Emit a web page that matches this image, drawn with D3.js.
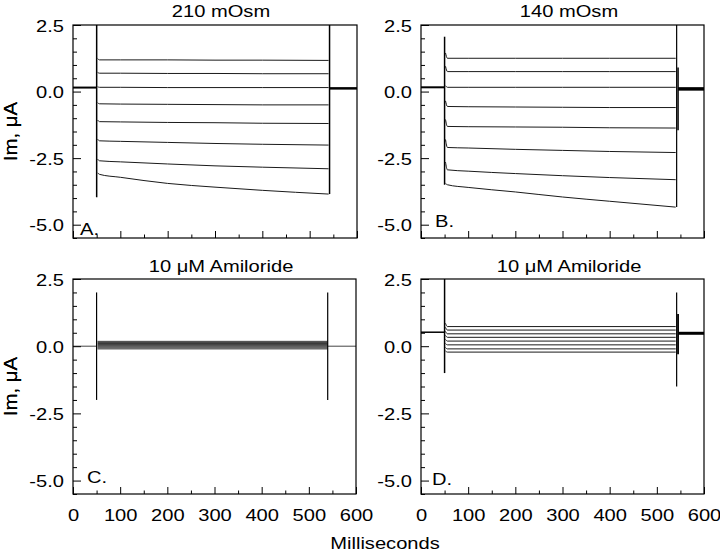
<!DOCTYPE html>
<html><head><meta charset="utf-8">
<script src="https://cdn.jsdelivr.net/npm/d3@7"></script>
<style>
body{margin:0;background:#fff}
svg{display:block}
text{font-family:"Liberation Sans",Arial,Helvetica,sans-serif;fill:#000}
</style>
</head><body>
<svg id="chart" width="720" height="552"></svg>
<script>
// ---------------- data ----------------
const panelTitles  = ["210 mOsm", "140 mOsm", "10 \u03BCM Amiloride", "10 \u03BCM Amiloride"];
const panelLetters = ["A.", "B.", "C.", "D."];
const xTickValues  = [0, 100, 200, 300, 400, 500, 600];
const xTickLabels  = ["0", "100", "200", "300", "400", "500", "600"];
const yTickValues  = [-5.0, -2.5, 0.0, 2.5];
const yTickLabels  = ["-5.0", "-2.5", "0.0", "2.5"];
const xLabel = "Milliseconds";
const yLabel = "Im, \u03BCA";

// Panel A: 210 mOsm  (time in ms, current in µA)
const stepTimesA = [52, 56, 100, 200, 300, 400, 540];
const tracesA = [
  [ 1.24,  1.19,  1.19,  1.19,  1.18,  1.18,  1.17],
  [ 0.72,  0.69,  0.69,  0.68,  0.68,  0.67,  0.67],
  [ 0.18,  0.16,  0.16,  0.15,  0.15,  0.15,  0.15],
  [-0.42, -0.46, -0.47, -0.48, -0.49, -0.50, -0.50],
  [-1.07, -1.13, -1.14, -1.16, -1.17, -1.19, -1.20],
  [-1.79, -1.85, -1.87, -1.91, -1.95, -1.98, -2.01],
  [-2.54, -2.60, -2.64, -2.72, -2.79, -2.84, -2.90],
  [-3.05, -3.11, -3.22, -3.45, -3.59, -3.71, -3.85]
];
const spikesA = [[50, 2.6, -3.97], [542, 2.6, -3.85]];
const holdA   = [[0, 50, 0.15], [542, 600, 0.12]];

// Panel B: 140 mOsm
const stepTimesB = [52, 56, 100, 200, 300, 400, 540];
const tracesB = [
  [ 1.45,  1.25,  1.25,  1.25,  1.25,  1.25,  1.25],
  [ 0.95,  0.75,  0.75,  0.75,  0.75,  0.75,  0.75],
  [ 0.22,  0.16,  0.16,  0.16,  0.16,  0.16,  0.16],
  [-0.35, -0.56, -0.57, -0.58, -0.59, -0.60, -0.60],
  [-1.05, -1.31, -1.32, -1.33, -1.34, -1.36, -1.37],
  [-1.80, -2.10, -2.12, -2.17, -2.21, -2.25, -2.29],
  [-2.65, -2.94, -2.99, -3.08, -3.16, -3.23, -3.31],
  [-3.45, -3.50, -3.60, -3.77, -3.96, -4.12, -4.34]
];
const spikesB = [[50, 2.06, -3.5], [542, 2.6, -4.34], [545, 0.9, -1.45]];
const holdB   = [[0, 50, 0.16], [545, 600, 0.10]];

// Panel C: 210 mOsm + 10 µM amiloride
const stepTimesC = [52, 540];
const tracesC = [
  [ 0.18,  0.18], [ 0.14,  0.14], [ 0.10,  0.10], [ 0.06,  0.06],
  [ 0.02,  0.02], [-0.02, -0.02], [-0.06, -0.06], [-0.10, -0.10]
];
const spikesC = [[50, 2.0, -2.0], [540, 2.0, -2.0]];
const holdC   = [[0, 50, 0.0], [540, 600, 0.0]];

// Panel D: 140 mOsm + 10 µM amiloride
const stepTimesD = [52, 56, 540];
const tracesD = [
  [ 0.85,  0.73,  0.73], [ 0.70,  0.60,  0.60], [ 0.55,  0.46,  0.46], [ 0.40,  0.33,  0.33],
  [ 0.25,  0.19,  0.19], [ 0.10,  0.05,  0.05], [-0.05, -0.10, -0.10], [-0.18, -0.22, -0.22]
];
const spikesD = [[50, 2.6, -1.0], [542, 2.0, -1.5], [545, 1.2, -0.3]];
const holdD   = [[0, 50, 0.52], [545, 600, 0.48]];

// ---------------- layout ----------------
const panels = [
  {times: stepTimesA, traces: tracesA, spikes: spikesA, hold: holdA,
   x0: 73, x1: 357, y0: 25, y1: 238, titleX: 221, titleY: 17, letX: 80, letY: 235, xLabels: false,
   holdW: [2, 2.5], traceColor: "#1a1a1a", spikeW: [1.5, 1.5]},
  {times: stepTimesB, traces: tracesB, spikes: spikesB, hold: holdB,
   x0: 421, x1: 704, y0: 25, y1: 238, titleX: 569, titleY: 17, letX: 435, letY: 227, xLabels: false,
   holdW: [2, 3.5], traceColor: "#1a1a1a", spikeW: [1.5, 1.2, 1.5]},
  {times: stepTimesC, traces: tracesC, spikes: spikesC, hold: holdC,
   x0: 73, x1: 356, y0: 279, y1: 494, titleX: 221, titleY: 272, letX: 87, letY: 483, xLabels: true,
   holdW: [1, 1], traceColor: "#3a3a3a", spikeW: [1.2, 1.2]},
  {times: stepTimesD, traces: tracesD, spikes: spikesD, hold: holdD,
   x0: 421, x1: 704, y0: 279, y1: 494, titleX: 569, titleY: 272, letX: 432, letY: 485, xLabels: true,
   holdW: [1.5, 3], traceColor: "#1a1a1a", spikeW: [1.5, 1.2, 1.8]}
];

const SX = 1.22;          // horizontal stretch of the lettering
const FS = 16.5;          // font size
const svg = d3.select("#chart");

function label(g, x, y, str, anchor, size, rot, sx) {
  return g.append("text")
    .attr("transform", `translate(${x},${y}) rotate(${rot}) scale(${sx},1)`)
    .attr("text-anchor", anchor)
    .style("font-size", size + "px")
    .text(str);
}

panels.forEach((p, i) => {
  const x = d3.scaleLinear().domain([0, 600]).range([p.x0, p.x1]);
  const y = d3.scaleLinear().domain([-5.5, 2.5]).range([p.y1, p.y0]);
  const g = svg.append("g");

  const clipId = "clip" + i;
  svg.append("clipPath").attr("id", clipId).append("rect")
    .attr("x", p.x0 - 4).attr("y", p.y0).attr("width", p.x1 - p.x0 + 4).attr("height", p.y1 - p.y0);
  const plot = g.append("g").attr("clip-path", `url(#${clipId})`);

  const line = d3.line().x(d => x(d[0])).y(d => y(d[1]));
  const smooth = d3.line().x(d => x(d[0])).y(d => y(d[1])).curve(d3.curveMonotoneX);

  // holding current before / after the pulse
  p.hold.forEach((h, k) => {
    plot.append("path").attr("d", line([[h[0], h[2]], [h[1], h[2]]]))
      .attr("fill", "none").attr("stroke", i === 2 ? "#444" : "#000")
      .attr("stroke-width", p.holdW[k]);
  });
  // step traces
  p.traces.forEach(vals => {
    plot.append("path").attr("d", smooth(p.times.map((t, k) => [t, vals[k]])))
      .attr("fill", "none").attr("stroke", p.traceColor).attr("stroke-width", 1);
  });
  // capacitive transients
  p.spikes.forEach((s, k) => {
    plot.append("path").attr("d", line([[s[0], s[1]], [s[0], s[2]]]))
      .attr("fill", "none").attr("stroke", "#000").attr("stroke-width", p.spikeW[k]);
  });

  // ticks (inward)
  const xMinor = d3.range(50, 600, 100);
  const yMinor = d3.range(-5.5, 2.51, 0.5).filter(v => !yTickValues.some(m => Math.abs(m - v) < 1e-6));

  const ax1 = g.append("g").attr("transform", `translate(0,${p.y1})`)
    .call(d3.axisBottom(x).tickValues(xMinor).tickSize(-3.5).tickSizeOuter(0).tickFormat(""));
  const ax2 = g.append("g").attr("transform", `translate(0,${p.y1})`)
    .call(d3.axisBottom(x).tickValues(xTickValues).tickSize(-7).tickSizeOuter(0)
      .tickPadding(12).tickFormat((d, k) => p.xLabels ? xTickLabels[k] : ""));
  const ay1 = g.append("g").attr("transform", `translate(${p.x0},0)`)
    .call(d3.axisLeft(y).tickValues(yMinor).tickSize(-4).tickSizeOuter(0).tickFormat(""));
  const ay2 = g.append("g").attr("transform", `translate(${p.x0},0)`)
    .call(d3.axisLeft(y).tickValues(yTickValues).tickSize(-8).tickSizeOuter(0)
      .tickFormat((d, k) => yTickLabels[k]));

  [ax1, ax2, ay1, ay2].forEach(a => {
    a.select(".domain").remove();
    a.selectAll("line").attr("stroke", "#000").attr("stroke-width", 1);
    a.attr("font-family", null).attr("font-size", null);
  });
  ax2.selectAll("text").style("font-size", FS + "px").attr("dy", null).attr("y", 0)
    .attr("transform", `translate(0,27) scale(${SX},1)`);
  ay2.selectAll("text").style("font-size", FS + "px").attr("dy", null).attr("x", 0)
    .attr("transform", `translate(-9,6) scale(${SX},1)`);

  // frame
  g.append("rect").attr("x", p.x0).attr("y", p.y0)
    .attr("width", p.x1 - p.x0).attr("height", p.y1 - p.y0)
    .attr("fill", "none").attr("stroke", "#000").attr("stroke-width", 1.2);

  label(g, p.titleX, p.titleY, panelTitles[i], "middle", FS, 0, SX);
  label(g, p.letX, p.letY, panelLetters[i], "start", FS, 0, SX);
  label(g, 17, (p.y0 + p.y1) / 2, yLabel, "middle", 17.5, -90, 1.17);
});

label(svg, 385, 549, xLabel, "middle", FS, 0, SX);
</script>
</body></html>
